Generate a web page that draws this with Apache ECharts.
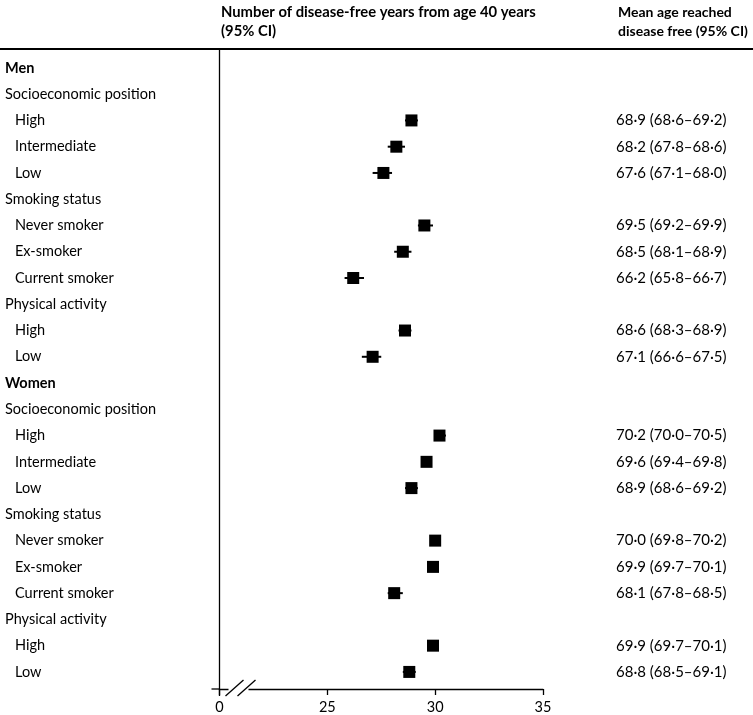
<!DOCTYPE html>
<html>
<head>
<meta charset="utf-8">
<script src="https://cdn.jsdelivr.net/npm/echarts@6/dist/echarts.min.js"></script>
<style>
  html, body { margin: 0; padding: 0; background: #fff; }
  #chart { width: 753px; height: 715px; }
</style>
</head>
<body>
<div id="chart"></div>
<script>
// ---------- data ----------
const rowLabels = [
  'Men',
  'Socioeconomic position', 'High', 'Intermediate', 'Low',
  'Smoking status', 'Never smoker', 'Ex-smoker', 'Current smoker',
  'Physical activity', 'High', 'Low',
  'Women',
  'Socioeconomic position', 'High', 'Intermediate', 'Low',
  'Smoking status', 'Never smoker', 'Ex-smoker', 'Current smoker',
  'Physical activity', 'High', 'Low'
];
// 0 = sex group (bold), 1 = factor heading, 2 = factor level (indented)
const rowLevels = [0, 1, 2, 2, 2, 1, 2, 2, 2, 1, 2, 2, 0, 1, 2, 2, 2, 1, 2, 2, 2, 1, 2, 2];

// Number of disease-free years from age 40 years (point estimate and 95% CI)
const yearsEst  = [null, null, 28.9, 28.2, 27.6, null, 29.5, 28.5, 26.2, null, 28.6, 27.1,
                   null, null, 30.2, 29.6, 28.9, null, 30.0, 29.9, 28.1, null, 29.9, 28.8];
const yearsLow  = [null, null, 28.6, 27.8, 27.1, null, 29.2, 28.1, 25.8, null, 28.3, 26.6,
                   null, null, 30.0, 29.4, 28.6, null, 29.8, 29.7, 27.8, null, 29.7, 28.5];
const yearsHigh = [null, null, 29.2, 28.6, 28.0, null, 29.9, 28.9, 26.7, null, 28.9, 27.5,
                   null, null, 30.5, 29.8, 29.2, null, 30.2, 30.1, 28.5, null, 30.1, 29.1];

// Mean age reached disease free (95% CI)
const ageLabels = ['', '', '68·9 (68·6–69·2)', '68·2 (67·8–68·6)', '67·6 (67·1–68·0)',
  '', '69·5 (69·2–69·9)', '68·5 (68·1–68·9)', '66·2 (65·8–66·7)',
  '', '68·6 (68·3–68·9)', '67·1 (66·6–67·5)',
  '', '', '70·2 (70·0–70·5)', '69·6 (69·4–69·8)', '68·9 (68·6–69·2)',
  '', '70·0 (69·8–70·2)', '69·9 (69·7–70·1)', '68·1 (67·8–68·5)',
  '', '69·9 (69·7–70·1)', '68·8 (68·5–69·1)'];

// x-axis (broken): the axis starts at 20, shown as "0"
const xTickValues = [20, 25, 30, 35];
const xTickLabels = ['0', '25', '30', '35'];

const headerLeft = ['Number of disease-free years from age 40 years', '(95% CI)'];
const headerRight = ['Mean age reached', 'disease free (95% CI)'];

// ---------- build ----------
const FONT = 'Lato, "Open Sans", sans-serif';
const X_MIN = xTickValues[0], X_MAX = xTickValues[xTickValues.length - 1];
const Y_MIN = -0.72, Y_MAX = 23.65;

const ciData = [], pointData = [], labelData = [], ageData = [];
rowLabels.forEach((lab, i) => {
  labelData.push([X_MIN, i, lab, rowLevels[i]]);
  if (yearsEst[i] != null) {
    ciData.push([yearsLow[i], yearsHigh[i], i]);
    pointData.push([yearsEst[i], i]);
    ageData.push([X_MAX, i, ageLabels[i]]);
  }
});

const chart = echarts.init(document.getElementById('chart'), null, { renderer: 'canvas' });

const option = {
  animation: false,
  backgroundColor: '#fff',
  grid: { left: 219.5, right: 210, top: 49, bottom: 25, containLabel: false },
  xAxis: {
    type: 'value', min: X_MIN, max: X_MAX, interval: 5, position: 'bottom',
    axisLine: { show: true, onZero: false, lineStyle: { color: '#000', width: 1.3 } },
    axisTick: { show: true, length: 6, lineStyle: { color: '#000', width: 1.3 } },
    splitLine: { show: false },
    axisLabel: {
      color: '#000', fontFamily: FONT, fontSize: 14.5, margin: 11,
      formatter: v => { const k = xTickValues.indexOf(v); return k >= 0 ? xTickLabels[k] : ''; }
    }
  },
  yAxis: {
    type: 'value', inverse: true, min: Y_MIN, max: Y_MAX, position: 'left',
    axisLine: { show: true, onZero: false, lineStyle: { color: '#000', width: 1.3 } },
    axisTick: { show: false }, axisLabel: { show: false }, splitLine: { show: false }
  },
  series: [
    {
      type: 'custom', name: 'ci', clip: false,
      data: ciData,
      renderItem: (params, api) => {
        const a = api.coord([api.value(0), api.value(2)]);
        const b = api.coord([api.value(1), api.value(2)]);
        return { type: 'line', shape: { x1: a[0], y1: a[1], x2: b[0], y2: b[1] },
                 style: { stroke: '#000', lineWidth: 2 } };
      }
    },
    {
      type: 'scatter', name: 'est', symbol: 'rect', symbolSize: 12,
      itemStyle: { color: '#000', opacity: 1 }, data: pointData, z: 3
    },
    {
      type: 'custom', name: 'rowLabels', clip: false,
      data: labelData,
      renderItem: (params, api) => {
        const p = api.coord([api.value(0), api.value(1)]);
        const i = params.dataIndex;
        const lvl = labelData[i][3];
        return { type: 'text',
          style: { text: labelData[i][2], x: lvl === 2 ? 15 : 5, y: p[1],
                   verticalAlign: 'middle', align: 'left', fill: '#000',
                   font: (lvl === 0 ? 'bold ' : '') + '14.5px ' + FONT } };
      }
    },
    {
      type: 'custom', name: 'ageLabels', clip: false,
      data: ageData,
      renderItem: (params, api) => {
        const p = api.coord([api.value(0), api.value(1)]);
        return { type: 'text',
          style: { text: ageData[params.dataIndex][2], x: p[0] + 73, y: p[1],
                   verticalAlign: 'middle', align: 'left', fill: '#000',
                   font: '15px ' + FONT } };
      }
    }
  ]
};
chart.setOption(option);

// decorations: header, top rule, axis break
const o = chart.convertToPixel({ gridIndex: 0 }, [X_MIN, Y_MAX]);
const ox = o[0], oy = o[1];
const right35 = chart.convertToPixel({ gridIndex: 0 }, [X_MAX, 0])[0];
const hdrFontL = 'bold 14.8px ' + FONT;
const hdrFontR = 'bold 14px ' + FONT;
chart.setOption({
  graphic: [
    { type: 'line', shape: { x1: 0, y1: 49, x2: 753, y2: 49 }, style: { stroke: '#000', lineWidth: 2 } },
    { type: 'text', style: { text: headerLeft[0], x: ox + 1.5, y: 12, verticalAlign: 'middle', font: hdrFontL, fill: '#000' } },
    { type: 'text', style: { text: headerLeft[1], x: ox + 1.5, y: 31, verticalAlign: 'middle', font: hdrFontL, fill: '#000' } },
    { type: 'text', style: { text: headerRight[0], x: right35 + 75, y: 12, verticalAlign: 'middle', font: hdrFontR, fill: '#000' } },
    { type: 'text', style: { text: headerRight[1], x: right35 + 75, y: 31, verticalAlign: 'middle', font: hdrFontR, fill: '#000' } },
    // axis extension left of origin and below
    { type: 'line', shape: { x1: ox - 8, y1: oy, x2: ox, y2: oy }, style: { stroke: '#000', lineWidth: 1.3 } },
    { type: 'line', shape: { x1: ox, y1: oy, x2: ox, y2: oy + 7 }, style: { stroke: '#000', lineWidth: 1.3 } },
    // gap in the axis line
    { type: 'rect', shape: { x: ox + 9, y: oy - 2, width: 20, height: 4 }, style: { fill: '#fff' }, z: 100 },
    // break slashes
    { type: 'line', shape: { x1: ox + 6, y1: oy + 7, x2: ox + 24, y2: oy - 9 }, style: { stroke: '#000', lineWidth: 1.4 }, z: 101 },
    { type: 'line', shape: { x1: ox + 18, y1: oy + 7, x2: ox + 36, y2: oy - 9 }, style: { stroke: '#000', lineWidth: 1.4 }, z: 101 }
  ]
});
</script>
</body>
</html>
